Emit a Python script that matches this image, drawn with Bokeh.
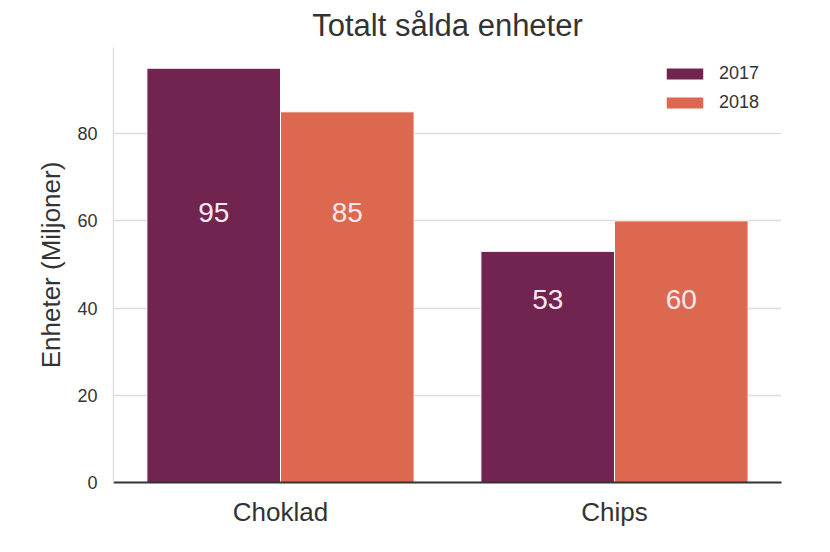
from bokeh.models import ColumnDataSource, FactorRange, Range1d, FixedTicker, Legend, LegendItem
from bokeh.plotting import figure
from bokeh.transform import dodge
from bokeh.core.properties import value
from bokeh.embed import file_html
from bokeh.resources import INLINE

categories = ["Choklad", "Chips"]
years = ["2017", "2018"]
units_2017 = [95, 53]
units_2018 = [85, 60]
label_level = [62, 42]

colors = {"2017": "#722451", "2018": "#dd6850"}
FONT = "Liberation Sans"

source = ColumnDataSource(data={
    "cat": categories,
    "y2017": units_2017,
    "y2018": units_2018,
    "t2017": [str(v) for v in units_2017],
    "t2018": [str(v) for v in units_2018],
    "label_y": label_level,
})

p = figure(
    frame_width=668, frame_height=435,
    x_range=FactorRange(*categories),
    y_range=Range1d(0, 99.75),
    title="Totalt sålda enheter",
    toolbar_location=None,
    output_backend="svg",
    min_border_left=113, min_border_right=33,
    min_border_top=46, min_border_bottom=55,
)

bars = {}
for year, off in zip(years, [-0.2, 0.2]):
    bars[year] = p.vbar(x=dodge("cat", off, range=p.x_range), top="y" + year, width=0.4,
                        source=source, fill_color=colors[year], line_color="white", line_width=1)
    p.text(x=dodge("cat", off, range=p.x_range), y="label_y", text="t" + year, source=source,
           text_align="center", text_baseline="middle", text_color="#fbe8ef",
           text_font=value(FONT), text_font_size="28px")

# title
p.title.align = "center"
p.title.text_font = FONT
p.title.text_font_size = "31px"
p.title.text_font_style = "normal"
p.title.text_color = "#333333"

# axes
p.yaxis.ticker = FixedTicker(ticks=[0, 20, 40, 60, 80])
p.yaxis.axis_label = "Enheter (Miljoner)"
p.yaxis.axis_label_text_font = FONT
p.yaxis.axis_label_text_font_size = "26px"
p.yaxis.axis_label_text_font_style = "normal"
p.yaxis.axis_label_text_color = "#333333"
p.yaxis.axis_label_standoff = 8
p.yaxis.major_label_text_font = FONT
p.yaxis.major_label_text_font_size = "18px"
p.yaxis.major_label_text_color = "#333333"
p.yaxis.major_label_standoff = 10
p.yaxis.axis_line_color = "#dddddd"
p.yaxis.axis_line_width = 1.5
p.yaxis.major_tick_line_color = None
p.yaxis.minor_tick_line_color = None

p.xaxis.major_label_text_font = FONT
p.xaxis.major_label_text_font_size = "26px"
p.xaxis.major_label_text_color = "#333333"
p.xaxis.major_label_standoff = 8
p.xaxis.axis_line_color = "#333333"
p.xaxis.axis_line_width = 2
p.xaxis.major_tick_line_color = None
p.xaxis.minor_tick_line_color = None

p.xgrid.grid_line_color = None
p.ygrid.grid_line_color = "#dddddd"
p.ygrid.grid_line_width = 1.5

p.outline_line_color = None

# legend (bokeh insets the patch by 10%, so the glyph box is a bit larger)
legend = Legend(items=[LegendItem(label=y, renderers=[bars[y]]) for y in years],
                location="top_right")
legend.border_line_color = None
legend.background_fill_alpha = 0
legend.label_text_font = FONT
legend.label_text_font_size = "18px"
legend.label_text_color = "#333333"
legend.glyph_width = 47
legend.glyph_height = 15
legend.label_height = 20
legend.label_width = 46
legend.spacing = 8
legend.label_standoff = 11
legend.margin = 16
legend.padding = 10
p.add_layout(legend)

open("out.html", "w").write(file_html(p, INLINE))
